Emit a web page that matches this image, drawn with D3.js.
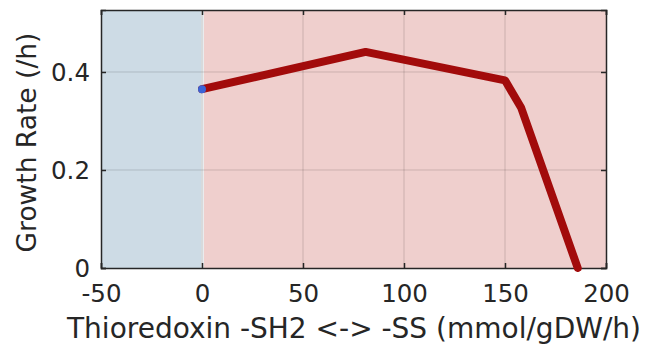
<!DOCTYPE html>
<html>
<head>
<meta charset="utf-8">
<script src="https://cdn.jsdelivr.net/npm/d3@7"></script>
<style>
body { margin: 0; background: #fff; }
text { font-family: "DejaVu Sans", sans-serif; fill: #262626; }
</style>
</head>
<body>
<svg id="chart" width="646" height="344"></svg>
<script>
var fluxX = [0, 81, 150, 158, 186];
var growthY = [0.365, 0.441, 0.383, 0.327, 0];
var xTicks = [-50, 0, 50, 100, 150, 200];
var yTicks = [0, 0.2, 0.4];
var regionBlue = [-50, 0];
var regionRed = [0, 200];

var svg = d3.select("#chart"),
    margin = {left: 101, right: 40, top: 10, bottom: 76},
    width = 646 - margin.left - margin.right,
    height = 344 - margin.top - margin.bottom;

var x = d3.scaleLinear().domain([-50, 200]).range([0, width]);
var y = d3.scaleLinear().domain([0, 0.5265]).range([height, 0]);

var g = svg.append("g").attr("transform", "translate(" + margin.left + "," + margin.top + ")");

// shaded regions
g.append("rect")
    .attr("x", x(regionBlue[0])).attr("y", 0)
    .attr("width", x(regionBlue[1]) - x(regionBlue[0]) - 1).attr("height", height)
    .attr("fill", "#cddbe5");
g.append("rect")
    .attr("x", x(regionBlue[1]) - 1).attr("y", 0)
    .attr("width", 3).attr("height", height)
    .attr("fill", "#e9ecee");
g.append("rect")
    .attr("x", x(regionRed[0]) + 2).attr("y", 0)
    .attr("width", x(regionRed[1]) - x(regionRed[0]) - 2).attr("height", height)
    .attr("fill", "#efcfcd");

// grid
g.selectAll(".gx").data(xTicks.slice(1, -1)).enter().append("line")
    .attr("x1", function(d) { return x(d); }).attr("x2", function(d) { return x(d); })
    .attr("y1", 0).attr("y2", height)
    .attr("stroke", "#000").attr("stroke-opacity", 0.15);
g.selectAll(".gy").data(yTicks.slice(1)).enter().append("line")
    .attr("x1", 0).attr("x2", width)
    .attr("y1", function(d) { return y(d); }).attr("y2", function(d) { return y(d); })
    .attr("stroke", "#000").attr("stroke-opacity", 0.15);

// axes
var xAxis = d3.axisBottom(x).tickValues(xTicks).tickSize(-5).tickPadding(17)
    .tickFormat(function(d) { return String(d); });
var yAxis = d3.axisLeft(y).tickValues(yTicks).tickSize(-5).tickPadding(11)
    .tickFormat(function(d) { return d === 0 ? "0" : d3.format(".1f")(d); });

var xa = g.append("g").attr("transform", "translate(0," + height + ")").call(xAxis);
var ya = g.append("g").call(yAxis);
var xt = g.append("g").call(d3.axisTop(x).tickValues(xTicks).tickSize(-5).tickFormat(""));
var yr = g.append("g").attr("transform", "translate(" + width + ",0)").call(d3.axisRight(y).tickValues(yTicks).tickSize(-5).tickFormat(""));

[xa, ya, xt, yr].forEach(function(a) {
    a.select(".domain").attr("stroke", "#262626").attr("stroke-width", 1.5);
    a.selectAll(".tick line").attr("stroke", "#262626").attr("stroke-width", 1.5);
    a.selectAll("text").style("font-size", "24.5px").attr("fill", "#262626");
});
ya.selectAll("text").attr("dy", "0.36em");

// line
var line = d3.line().x(function(d, i) { return x(fluxX[i]); }).y(function(d) { return y(d); });
g.append("path")
    .datum(growthY)
    .attr("d", line)
    .attr("fill", "none")
    .attr("stroke", "#a20b0b")
    .attr("stroke-width", 8)
    .attr("stroke-linejoin", "round")
    .attr("stroke-linecap", "round");

g.append("circle")
    .attr("cx", x(fluxX[0])).attr("cy", y(growthY[0]))
    .attr("r", 4).attr("fill", "#3b63d6");

// labels
svg.append("text")
    .attr("x", 354).attr("y", 338)
    .attr("text-anchor", "middle")
    .style("font-size", "28px")
    .text("Thioredoxin -SH2 <-> -SS (mmol/gDW/h)");
svg.append("text")
    .attr("transform", "translate(36,142.5) rotate(-90)")
    .attr("text-anchor", "middle")
    .style("font-size", "26.5px")
    .text("Growth Rate (/h)");
</script>
</body>
</html>
